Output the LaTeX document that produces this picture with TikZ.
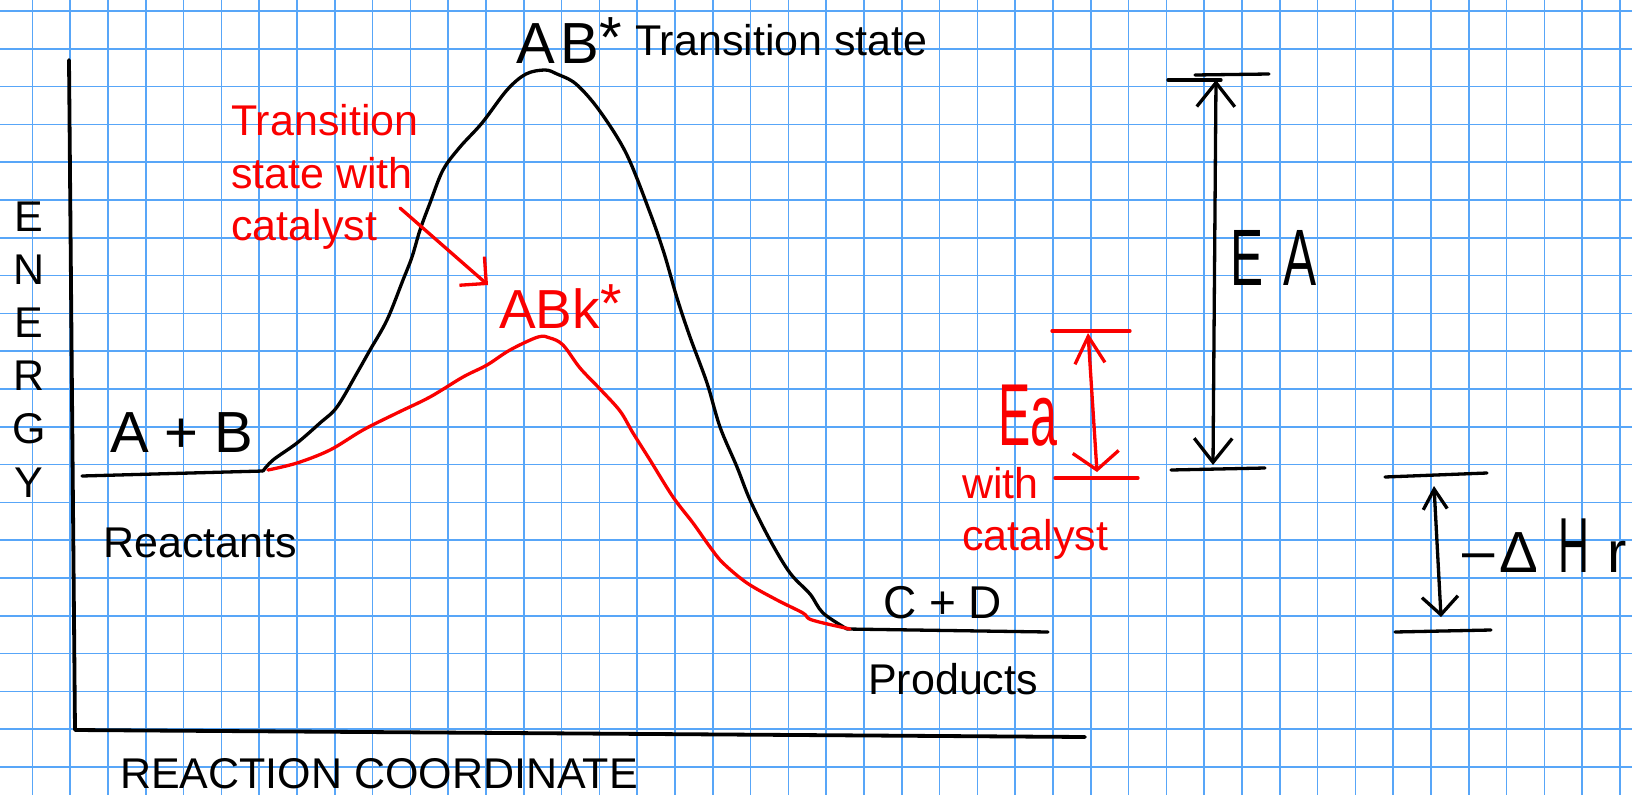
\documentclass[tikz,border=0pt]{standalone}
\usepackage{fontspec}
\setmainfont{Liberation Sans}
\usetikzlibrary{arrows.meta}
\definecolor{gridblue}{RGB}{88,166,248}
\definecolor{inkred}{RGB}{250,0,0}

\begin{document}
\begin{tikzpicture}[x=1pt,y=-1pt,
  >={Straight Barb[length=24pt,width=38pt]},
  grid/.style={gridblue,line width=1.6pt},
  ink/.style={line width=3.3pt,line cap=round,line join=round},
  word/.style={anchor=base west,inner sep=0pt,font=\fontsize{43}{52}\selectfont},
  hand/.style={anchor=base west,inner sep=0pt,font=\fontsize{58}{60}\selectfont}]

\clip (0,0) rectangle (1632,795);
\fill[white] (0,0) rectangle (1632,795);

\foreach \i in {0,...,42}
  \draw[grid] ({32.3+37.8*\i},0)--++(0,795);
\foreach \j in {0,...,20}
  \draw[grid] (0,{11+37.8*\j})--++(1632,0);

\draw[ink,line width=3.8pt] (69,60)--(75,730)--(1085,737);

\coordinate (reacL) at (82,476);
\coordinate (reacR) at (263,471);
\coordinate (prodL) at (847,629);
\coordinate (prodR) at (1048,632);
\draw[ink] (reacL)--(reacR);
\draw[ink] (prodL)--(prodR);

\draw[ink] plot[smooth,tension=0.55] coordinates {
  (263,471) (273,460) (297,443) (320,423) (337,407) (357,373)
  (370,350) (387,320) (403,280) (412,257) (420,230) (430,203)
  (443,170) (460,147) (482,123) (507,90) (526,74) (545,70)
  (557,74) (576,84) (599,110) (626,153) (649,210) (664,253)
  (677,298) (690,337) (707,383) (720,427) (737,467) (750,500)
  (770,540) (790,573) (810,594) (823,613) (847,629)};

\draw[ink,inkred] plot[smooth,tension=0.55] coordinates {
  (268,470) (297,463) (330,450) (363,430) (397,413) (430,397)
  (463,377) (487,365) (510,350) (538,337) (550,338) (563,345)
  (580,368) (600,389) (620,411) (633,433) (650,460) (673,497)
  (693,523) (710,547) (723,563) (747,583) (777,600) (803,613)
  (812,620) (850,629)};

\foreach \l [count=\k from 0] in {E,N,E,R,G,Y}
  \node[word,anchor=base] (energy\k) at (29,{231.5+53.1*\k}) {\l};
\node[word] (coord) at (120,788) {REACTION COORDINATE};

\node[hand] (ab) at (110,452) {A + B};
\node[word] (reac) at (103,557) {Reactants};
\node[hand,font=\fontsize{46}{48}\selectfont] (cd) at (883,618) {C + D};
\node[word] (prod) at (868,694) {Products};

\node[hand] (ts) at (516,63) {A\kern6pt B\raisebox{6pt}{*}};
\node[word] (tslbl) at (635,55) {Transition state};

\node[word,inkred] (cat1) at (231,135) {Transition};
\node[word,inkred] (cat2) at (231,188) {state with};
\node[word,inkred] (cat3) at (231,240) {catalyst};
\node[hand,inkred,font=\fontsize{55}{58}\selectfont] (tsc) at (499,328)
  {ABk\raisebox{6pt}{*}};

\coordinate (ptail) at (400,208);
\coordinate (ptip) at (488,285);
\draw[ink,inkred,->,>={Straight Barb[length=19pt,width=38pt]}] (ptail)--(ptip);

\coordinate (eaT) at (1216,80);
\coordinate (eaB) at (1213,465);
\draw[ink] (1168,80)--(1221,80);
\draw[ink] (1195,75)--(1269,74);
\draw[ink] (1171,470)--(1265,468);
\draw[ink,<->] (eaT)--(eaB);
\node[hand,font=\fontsize{80}{80}\selectfont] (ea) at (1230,285)
  {\scalebox{0.62}[1]{E}\kern20pt\scalebox{0.62}[1]{A}};

\coordinate (caT) at (1088,333);
\coordinate (caB) at (1097,472);
\draw[ink,inkred] (1052,331)--(1130,331);
\draw[ink,inkred] (1055,478)--(1138,478);
\draw[ink,inkred,{Straight Barb[length=27pt,width=30pt]}-{Straight Barb[length=18pt,width=46pt]}]
  (caT)--(caB);
\node[hand,inkred,font=\fontsize{88}{88}\selectfont] (eac) at (998,445)
  {\scalebox{0.55}[1]{Ea}};
\node[word,inkred] (with1) at (962,498) {with};
\node[word,inkred] (with2) at (962,550) {catalyst};

\coordinate (dhT) at (1434,486);
\coordinate (dhB) at (1441,617);
\draw[ink] (1385,477)--(1487,473);
\draw[ink] (1395,632)--(1491,630);
\draw[ink,{Straight Barb[length=20pt,width=24pt]}-{Straight Barb[length=18pt,width=36pt]}]
  (dhT)--(dhB);
\node[hand] (dh) at (1462,572)
  {\raisebox{2pt}{–}\kern5pt Δ\kern20pt{\fontsize{78}{78}\selectfont\scalebox{0.55}[1]{H}}\kern18pt r};

\end{tikzpicture}
\end{document}
